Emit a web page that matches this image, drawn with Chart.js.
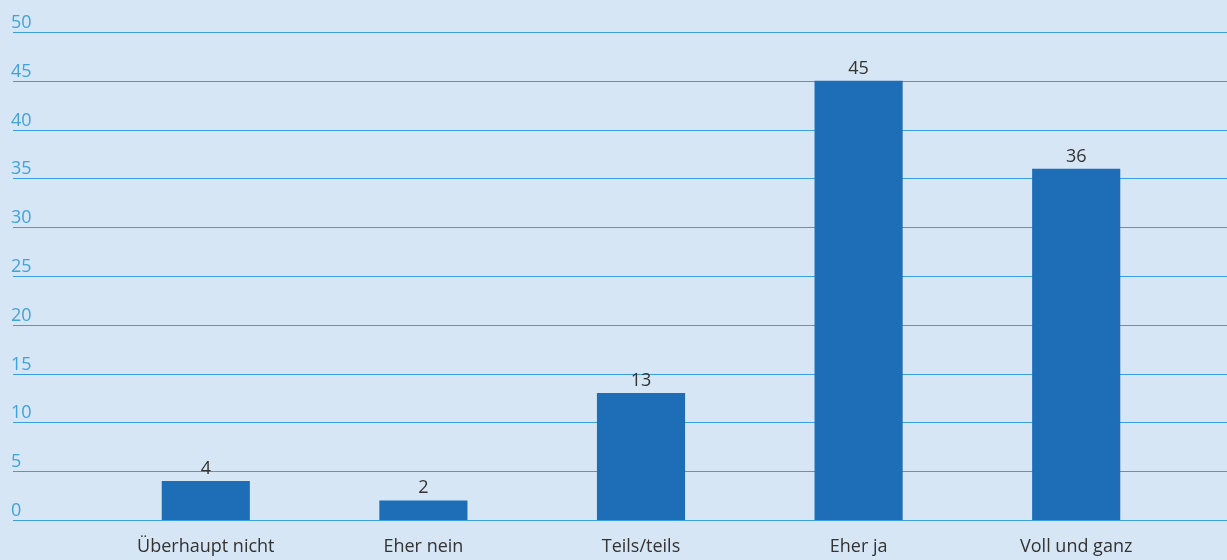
<!DOCTYPE html>
<html>
<head>
<meta charset="utf-8">
<script src="https://cdn.jsdelivr.net/npm/chart.js@4"></script>
<style>
  html, body { margin: 0; padding: 0; background: #d6e6f5; }
  #wrap { width: 1227px; height: 560px; position: relative; }
</style>
</head>
<body>
<div id="wrap"><canvas id="chart"></canvas></div>
<script>
// data
const categories = ['Überhaupt nicht', 'Eher nein', 'Teils/teils', 'Eher ja', 'Voll und ganz'];
const values = [4, 2, 13, 45, 36];
const yTicks = [0, 5, 10, 15, 20, 25, 30, 35, 40, 45, 50];

const gridColor = '#3a9fdc';
const barColor = '#1d6db7';

// full-width gridlines with labels sitting on top of them
const gridPlugin = {
    id: 'gridLines',
    beforeDatasetsDraw(chart) {
        const ctx = chart.ctx;
        const y = chart.scales.y;
        ctx.save();
        ctx.strokeStyle = gridColor;
        ctx.lineWidth = 1.2;
        ctx.fillStyle = '#41a3dc';
        ctx.font = "18px 'Open Sans'";
        ctx.textAlign = 'left';
        ctx.textBaseline = 'alphabetic';
        yTicks.forEach(t => {
            const py = Math.round(y.getPixelForValue(t)) + 0.5;
            ctx.beginPath();
            ctx.moveTo(13, py);
            ctx.lineTo(chart.width, py);
            ctx.stroke();
            ctx.fillText(String(t), 11, py - 5);
        });
        ctx.restore();
    }
};

const valueLabels = {
    id: 'valueLabels',
    afterDatasetsDraw(chart) {
        const ctx = chart.ctx;
        const meta = chart.getDatasetMeta(0);
        ctx.save();
        ctx.fillStyle = '#333333';
        ctx.font = "18px 'Open Sans'";
        ctx.textAlign = 'center';
        ctx.textBaseline = 'alphabetic';
        meta.data.forEach((bar, i) => {
            ctx.fillText(String(values[i]), bar.x, bar.y - 7);
        });
        ctx.restore();
    }
};

Chart.defaults.font.family = "'Open Sans'";

new Chart(document.getElementById('chart').getContext('2d'), {
    type: 'bar',
    data: {
        labels: categories,
        datasets: [{
            data: values,
            backgroundColor: barColor,
            borderWidth: 0,
            barPercentage: 0.405,
            categoryPercentage: 1
        }]
    },
    options: {
        responsive: true,
        maintainAspectRatio: false,
        animation: false,
        layout: { padding: { left: 97, right: 42, top: 32, bottom: 0 } },
        plugins: {
            legend: { display: false },
            tooltip: { enabled: false }
        },
        scales: {
            y: {
                display: false,
                min: 0,
                max: 50
            },
            x: {
                grid: { display: false, drawTicks: false },
                border: { display: false },
                ticks: {
                    color: '#333333',
                    font: { size: 18 },
                    padding: 16,
                    maxRotation: 0
                },
                afterFit(scale) { scale.height = 40; }
            }
        }
    },
    plugins: [gridPlugin, valueLabels]
});
</script>
</body>
</html>
